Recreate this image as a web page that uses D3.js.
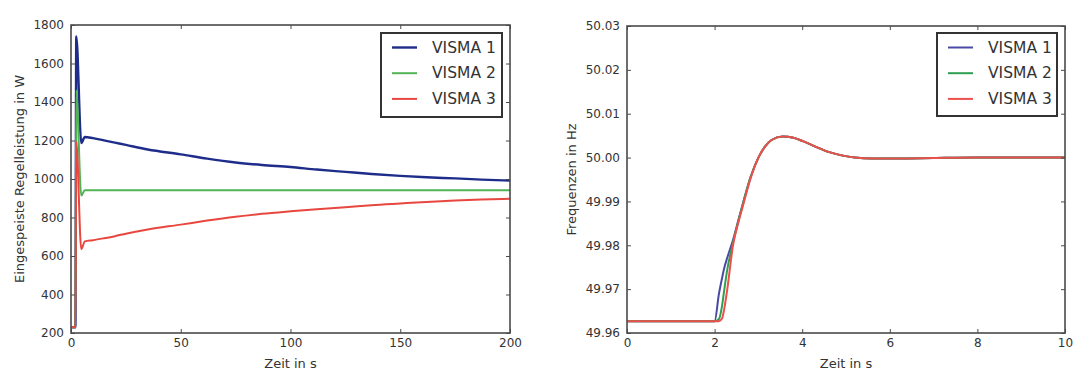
<!DOCTYPE html>
<html>
<head>
<meta charset="utf-8">
<script src="https://cdn.jsdelivr.net/npm/d3@7"></script>
<style>
  html, body { margin: 0; padding: 0; background: #fff; }
  svg { display: block; font-family: "DejaVu Sans", sans-serif; }
</style>
</head>
<body>
<svg id="chart" width="1073" height="372"></svg>
<script>
// ---------- data ----------
const seriesNames = ["VISMA 1", "VISMA 2", "VISMA 3"];

// Left chart: injected control power (W) over time (s)
const powerTime  = [0, 2, 2.4, 4.7, 6.3, 10, 15, 20, 25, 35, 50, 62, 75, 87, 100, 112, 125, 137, 150, 162, 175, 187, 200];
const powerVisma1 = [230, 230, 1740, 1187, 1218, 1212, 1201, 1189, 1177, 1153, 1128, 1106, 1086, 1073, 1062, 1049, 1037, 1026, 1016, 1009, 1003, 997, 992];
const powerVisma2 = [230, 230, 1460, 914, 942, 942, 942, 942, 942, 942, 942, 942, 942, 942, 942, 942, 942, 942, 942, 942, 942, 942, 942];
const powerVisma3 = [230, 230, 1192, 636, 676, 682, 692, 703, 716, 738, 763, 784, 804, 819, 832, 843, 853, 864, 873, 881, 888, 893, 897];
const powerXTicks = [0, 50, 100, 150, 200];
const powerYTicks = [200, 400, 600, 800, 1000, 1200, 1400, 1600, 1800];

// Right chart: frequencies (Hz) over time (s)
const freqTime   = [0, 2.0, 2.1, 2.17, 2.22, 2.29, 2.42, 2.55, 2.66, 2.82, 3.0, 3.15, 3.3, 3.55, 3.8, 4.0, 4.3, 4.6, 4.9, 5.2, 5.6, 6.2, 7, 8, 10];
const freqVisma1 = [49.9627, 49.9627, 49.9690, 49.9725, 49.9748, 49.9772, 49.9812, 49.9860, 49.9900, 49.9955, 50.0000, 50.0025, 50.0040, 50.0048, 50.0045, 50.0038, 50.0025, 50.0013, 50.0005, 50.0000, 49.9998, 49.9998, 49.9999, 50.0000, 50.0000];
const freqVisma2 = [49.9627, 49.9627, 49.9632, 49.9662, 49.9698, 49.9745, 49.9805, 49.9858, 49.9900, 49.9955, 50.0000, 50.0025, 50.0040, 50.0048, 50.0045, 50.0038, 50.0025, 50.0013, 50.0005, 50.0000, 49.9998, 49.9998, 49.9999, 50.0000, 50.0000];
const freqVisma3 = [49.9627, 49.9627, 49.9627, 49.9633, 49.9655, 49.9700, 49.9800, 49.9855, 49.9895, 49.9952, 50.0000, 50.0025, 50.0040, 50.0048, 50.0045, 50.0038, 50.0025, 50.0013, 50.0005, 50.0000, 49.9998, 49.9998, 49.9999, 50.0000, 50.0000];
const freqXTicks = [0, 2, 4, 6, 8, 10];
const freqYTicks = [49.96, 49.97, 49.98, 49.99, 50.00, 50.01, 50.02, 50.03];

// ---------- drawing ----------
const svg = d3.select("#chart");
svg.append("rect").attr("width", 1073).attr("height", 372).attr("fill", "#fff");

const textColor = "#333";
const spineColor = "#4a4a4a";

function drawPanel(cfg) {
  const { left, right, top, bottom } = cfg.box;
  const x = d3.scaleLinear().domain(cfg.xDomain).range([left, right]);
  const y = d3.scaleLinear().domain(cfg.yDomain).range([bottom, top]);
  const g = svg.append("g");

  const clipId = "clip-" + cfg.id;
  svg.append("clipPath").attr("id", clipId)
    .append("rect").attr("x", left).attr("y", top - 2)
    .attr("width", right - left).attr("height", bottom - top + 4);

  // lines
  const line = d3.line()
    .x((d, i) => x(cfg.time[i]))
    .y(d => y(d))
    .curve(cfg.curve);
  const lg = g.append("g").attr("clip-path", `url(#${clipId})`);
  cfg.series.forEach((s, k) => {
    lg.append("path")
      .attr("d", line(s))
      .attr("fill", "none")
      .attr("stroke", cfg.colors[k])
      .attr("stroke-width", cfg.widths[k])
      .attr("stroke-linejoin", "round");
  });

  // axes
  const styleAxis = sel => {
    sel.select(".domain").remove();
    sel.selectAll(".tick line").attr("stroke", spineColor).attr("stroke-width", 1);
    sel.selectAll(".tick text").attr("fill", textColor).attr("font-size", 12)
      .attr("font-family", "DejaVu Sans, sans-serif");
  };
  g.append("g").attr("transform", `translate(0,${bottom})`)
    .call(d3.axisBottom(x).tickValues(cfg.xTicks).tickSize(-4).tickPadding(5).tickFormat(cfg.xFormat))
    .call(styleAxis);
  g.append("g").attr("transform", `translate(0,${top})`)
    .call(d3.axisTop(x).tickValues(cfg.xTicks).tickSize(-4).tickFormat(""))
    .call(styleAxis);
  g.append("g").attr("transform", `translate(${left},0)`)
    .call(d3.axisLeft(y).tickValues(cfg.yTicks).tickSize(-4).tickPadding(7).tickFormat(cfg.yFormat))
    .call(styleAxis);
  g.append("g").attr("transform", `translate(${right},0)`)
    .call(d3.axisRight(y).tickValues(cfg.yTicks).tickSize(-4).tickFormat(""))
    .call(styleAxis);

  // frame
  g.append("rect").attr("x", left).attr("y", top)
    .attr("width", right - left).attr("height", bottom - top)
    .attr("fill", "none").attr("stroke", spineColor).attr("stroke-width", 1.6);

  // axis labels
  g.append("text").attr("x", (left + right) / 2).attr("y", 368)
    .attr("text-anchor", "middle").attr("font-size", 13).attr("fill", textColor)
    .text(cfg.xLabel);
  g.append("text")
    .attr("transform", `translate(${cfg.yLabelX},${(top + bottom) / 2}) rotate(-90)`)
    .attr("text-anchor", "middle").attr("font-size", 13).attr("fill", textColor)
    .text(cfg.yLabel);

  // legend
  const L = cfg.legend;
  const leg = g.append("g");
  leg.append("rect").attr("x", L.x).attr("y", L.y).attr("width", L.w).attr("height", L.h)
    .attr("fill", "#fff").attr("stroke", "#333").attr("stroke-width", 2);
  seriesNames.forEach((name, k) => {
    const ly = L.y + 14.5 + k * 25.7;
    leg.append("line").attr("x1", L.x + 11).attr("x2", L.x + 36)
      .attr("y1", ly).attr("y2", ly)
      .attr("stroke", cfg.colors[k]).attr("stroke-width", cfg.widths[k]);
    leg.append("text").attr("x", L.x + 51).attr("y", ly)
      .attr("dominant-baseline", "central")
      .attr("font-size", 15.5).attr("fill", textColor)
      .text(name);
  });
}

drawPanel({
  id: "power",
  box: { left: 71, right: 510, top: 25, bottom: 333 },
  xDomain: [0, 200], yDomain: [200, 1800],
  time: powerTime,
  series: [powerVisma1, powerVisma2, powerVisma3],
  colors: ["#1f2d8a", "#52b356", "#e8473f"],
  widths: [2.4, 2, 2],
  curve: d3.curveMonotoneX,
  xTicks: powerXTicks, yTicks: powerYTicks,
  xFormat: d3.format("d"), yFormat: d3.format("d"),
  xLabel: "Zeit in s",
  yLabel: "Eingespeiste Regelleistung in W",
  yLabelX: 24,
  legend: { x: 381, y: 33, w: 121, h: 84 }
});

drawPanel({
  id: "freq",
  box: { left: 627, right: 1065, top: 26, bottom: 333 },
  xDomain: [0, 10], yDomain: [49.96, 50.03],
  time: freqTime,
  series: [freqVisma1, freqVisma2, freqVisma3],
  colors: ["#4a4aa6", "#2e9e4f", "#ee4f4a"],
  widths: [2, 2, 2],
  curve: d3.curveMonotoneX,
  xTicks: freqXTicks, yTicks: freqYTicks,
  xFormat: d3.format("d"), yFormat: d3.format(".2f"),
  xLabel: "Zeit in s",
  yLabel: "Frequenzen in Hz",
  yLabelX: 576,
  legend: { x: 937, y: 33, w: 120, h: 83 }
});
</script>
</body>
</html>
